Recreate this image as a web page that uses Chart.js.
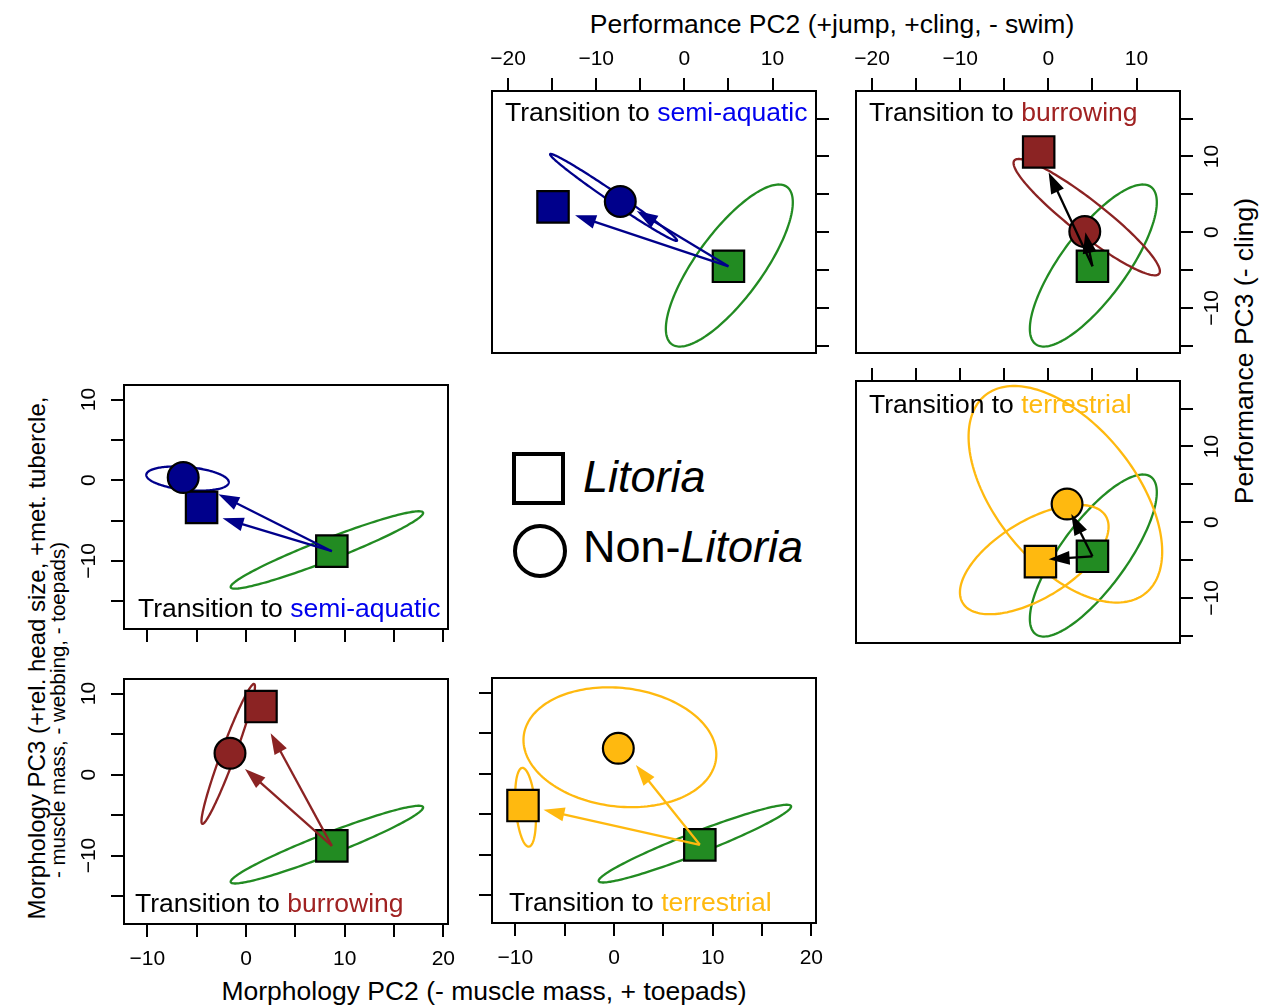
<!DOCTYPE html>
<html>
<head>
<meta charset="utf-8">
<title>Transitions in morphology and performance space</title>
<script src="https://cdn.jsdelivr.net/npm/chart.js@4.4.1/dist/chart.umd.min.js"></script>
<style>
  html, body { margin: 0; padding: 0; background: #fff; }
  body { width: 1265px; height: 1007px; position: relative; overflow: hidden;
         font-family: "Liberation Sans", Arial, sans-serif; color: #000; }
  canvas { position: absolute; }
  .t { position: absolute; white-space: nowrap; line-height: 1; }
  .rot { transform: translate(-50%, -50%) rotate(-90deg); }
  .hc { transform: translateX(-50%); }
  .key-sq { position: absolute; box-sizing: border-box; border: 4px solid #000; }
  .key-ci { position: absolute; box-sizing: border-box; border: 4px solid #000; border-radius: 50%; }
</style>
</head>
<body>

<div class="t hc" style="left:832px; top:10.5px; font-size:26.5px;">Performance PC2 (+jump, +cling, - swim)</div>
<div class="t hc" style="left:484px; top:977.5px; font-size:26.5px;">Morphology PC2 (- muscle mass, + toepads)</div>
<div class="t rot" style="left:1243.8px; top:351px; font-size:26.5px;">Performance PC3 (- cling)</div>
<div class="t rot" style="left:36.7px; top:658px; font-size:24px;">Morphology PC3 (+rel. head size, +met. tubercle,</div>
<div class="t rot" style="left:58px; top:710px; font-size:20.5px;">- muscle mass, - webbing, - toepads)</div>

<div class="key-sq" style="left:512px; top:452px; width:53px; height:53px;"></div>
<div class="t" style="left:583px; top:454px; font-size:45px; font-style:italic;">Litoria</div>
<div class="key-ci" style="left:513px; top:524px; width:54px; height:54px;"></div>
<div class="t" style="left:583px; top:524px; font-size:45px;">Non-<i>Litoria</i></div>

<script>
// ---------------------------------------------------------------
// Groups (order: semi-aquatic, burrowing, terrestrial)
// ---------------------------------------------------------------
const groups = ['semi-aquatic', 'burrowing', 'terrestrial'];

// ---------------------------------------------------------------
// Performance space: PC2 on x, PC3 on y
// ---------------------------------------------------------------
const perfArboreal       = [5.0, -4.5];        // arboreal mean, start of every arrow
const perfLitoria        = [[-14.9, 3.35], [-1.1, 10.6], [-0.9, -5.2]];
const perfNonLitoria     = [[-7.27, 4.06], [4.13, 0.09], [2.12, 2.4]];
const perfTipLitoria     = [[-12.4, 2.25], [0.03, 7.9], [0.03, -4.9]];
const perfTipNonLitoria  = [[-5.4, 2.8], [4.2, 0.0], [2.6, 1.07]];
// ellipses: [centre x, centre y, half-range x, half-range y, correlation]
const perfEllArboreal    = [5.1, -4.4, 7.2, 10.7, 0.78];
const perfEllLitoria     = [null, null, [-1.6, -4.93, 8.43, 7.22, 0.6]];
const perfEllNonLitoria  = [[-8.03, 4.6, 7.2, 5.74, -0.99], [4.35, 1.99, 8.3, 7.68, -0.93], [1.93, 3.69, 10.98, 14.3, -0.53]];
const perfXRange         = [-21.82, 14.93];
const perfYRange         = [-15.95, 18.65];
const perfXTickLabels    = [-20, -10, 0, 10];
const perfYTickLabels    = [-10, 0, 10];

// ---------------------------------------------------------------
// Morphology space: PC2 on x, PC3 on y
// ---------------------------------------------------------------
const morphArboreal      = [8.7, -8.8];
const morphLitoria       = [[-4.5, -3.37], [1.52, 8.4], [-9.22, -3.95]];
const morphNonLitoria    = [[-6.36, 0.33], [-1.62, 2.63], [0.44, 3.12]];
const morphTipLitoria    = [[-2.37, -4.73], [2.5, 5.1], [-7.14, -4.48]];
const morphTipNonLitoria = [[-2.8, -1.73], [-0.1, 0.7], [2.22, 1.07]];
const morphEllArboreal   = [8.2, -8.65, 9.75, 4.8, 0.955];
const morphEllLitoria    = [null, null, [-8.96, -4.16, 1.05, 4.86, -0.3]];
const morphEllNonLitoria = [[-5.92, 0.2, 4.18, 1.5, -0.3], [-1.8, 2.55, 2.71, 8.64, 0.96], [0.6, 3.25, 9.77, 7.4, -0.12]];
const morphXRange        = [-12.36, 20.47];
const morphYRange        = [-18.45, 11.8];
const morphXTickLabels   = [-10, 0, 10, 20];
const morphYTickLabels   = [-10, 0, 10];

// ---------------------------------------------------------------
// Styles
// ---------------------------------------------------------------
const GREEN = '#228B22';
const groupFill  = ['#00008B', '#8B2323', '#FFB90F'];
const groupText  = ['#0000EE', '#A02222', '#FFB90F'];
const FONT = '"Liberation Sans", Arial, sans-serif';
const SQUARE_R = 22.2, CIRCLE_R = 15.4;
const TICK_LEN = 13, MARGIN = 60;

const spaces = {
  perf: { arb: perfArboreal, lit: perfLitoria, non: perfNonLitoria,
          tipLit: perfTipLitoria, tipNon: perfTipNonLitoria,
          ellArb: perfEllArboreal, ellLit: perfEllLitoria, ellNon: perfEllNonLitoria,
          xr: perfXRange, yr: perfYRange, xl: perfXTickLabels, yl: perfYTickLabels,
          xPos: 'top', yPos: 'right' },
  morph: { arb: morphArboreal, lit: morphLitoria, non: morphNonLitoria,
          tipLit: morphTipLitoria, tipNon: morphTipNonLitoria,
          ellArb: morphEllArboreal, ellLit: morphEllLitoria, ellNon: morphEllNonLitoria,
          xr: morphXRange, yr: morphYRange, xl: morphXTickLabels, yl: morphYTickLabels,
          xPos: 'bottom', yPos: 'left' }
};

// panel layout: box = [left, top, width, height]; axis modes: 'labels' | 'ticks' | 'none'
const panels = [
  { space: 'perf',  g: 0, box: [492, 91, 324, 262],  x: 'labels', y: 'ticks',  arrow: groupFill[0], label: 'top',    lx: 13, ly: 30 },
  { space: 'perf',  g: 1, box: [856, 91, 324, 262],  x: 'labels', y: 'labels', arrow: '#000',       label: 'top',    lx: 13, ly: 30 },
  { space: 'perf',  g: 2, box: [856, 381, 324, 262], x: 'ticks',  y: 'labels', arrow: '#000',       label: 'top',    lx: 13, ly: 32 },
  { space: 'morph', g: 0, box: [124, 385, 324, 244], x: 'ticks',  y: 'labels', arrow: groupFill[0], label: 'bottom', lx: 14, ly: 12 },
  { space: 'morph', g: 1, box: [124, 679, 324, 245], x: 'labels', y: 'labels', arrow: groupFill[1], label: 'bottom', lx: 11, ly: 12 },
  { space: 'morph', g: 2, box: [492, 678, 324, 245], x: 'labels', y: 'ticks',  arrow: groupFill[2], label: 'bottom', lx: 17, ly: 12 }
];

function fmt(v) { return v < 0 ? '\u2212' + Math.abs(v) : String(v); }

function strokeEllipse(ctx, xs, ys, e, colour) {
  if (!e) return;
  const [cx, cy, sx, sy, r] = e;
  const d = Math.acos(r);
  ctx.beginPath();
  for (let i = 0; i <= 180; i++) {
    const t = 2 * Math.PI * i / 180;
    const px = xs.getPixelForValue(cx + sx * Math.cos(t + d / 2));
    const py = ys.getPixelForValue(cy + sy * Math.cos(t - d / 2));
    if (i === 0) ctx.moveTo(px, py); else ctx.lineTo(px, py);
  }
  ctx.closePath();
  ctx.strokeStyle = colour;
  ctx.lineWidth = 2.3;
  ctx.stroke();
}

function drawArrow(ctx, x0, y0, x1, y1, colour) {
  const a = Math.atan2(y1 - y0, x1 - x0);
  const L = 21, W = 7;
  const c = Math.cos(a), s = Math.sin(a);
  const bx = x1 - L * c, by = y1 - L * s;
  ctx.strokeStyle = colour;
  ctx.lineWidth = 2.3;
  ctx.lineCap = 'butt';
  ctx.beginPath();
  ctx.moveTo(x0, y0);
  ctx.lineTo(bx + 4 * c, by + 4 * s);
  ctx.stroke();
  ctx.fillStyle = colour;
  ctx.beginPath();
  ctx.moveTo(x1, y1);
  ctx.lineTo(bx - W * s, by + W * c);
  ctx.lineTo(bx + W * s, by - W * c);
  ctx.closePath();
  ctx.fill();
}

function axisOptions(pos, range, mode) {
  return {
    type: 'linear', position: pos, min: range[0], max: range[1],
    display: mode !== 'none',
    ticks: { stepSize: 5, includeBounds: false, display: false },
    grid: { display: true, drawOnChartArea: false, drawTicks: true, tickLength: TICK_LEN,
            tickWidth: 2, tickColor: '#000', lineWidth: 0 },
    border: { display: false },
    afterFit(s) { if (s.isHorizontal()) s.height = TICK_LEN; else s.width = TICK_LEN; }
  };
}

panels.forEach((p) => {
  const S = spaces[p.space];
  const [bl, bt, bw, bh] = p.box;
  const cv = document.createElement('canvas');
  cv.width = bw + 2 * MARGIN;
  cv.height = bh + 2 * MARGIN;
  cv.style.left = (bl - MARGIN) + 'px';
  cv.style.top = (bt - MARGIN) + 'px';
  document.body.appendChild(cv);

  const pad = { left: MARGIN, right: MARGIN, top: MARGIN, bottom: MARGIN };
  if (p.x !== 'none') pad[S.xPos] -= TICK_LEN;
  if (p.y !== 'none') pad[S.yPos] -= TICK_LEN;

  const lit = S.lit[p.g], non = S.non[p.g];

  const decor = {
    id: 'decor' + p.space + p.g,
    beforeDatasetsDraw(chart) {
      const { ctx, chartArea: a, scales: { x, y } } = chart;
      ctx.save();
      ctx.beginPath();
      ctx.rect(a.left, a.top, a.right - a.left, a.bottom - a.top);
      ctx.clip();
      strokeEllipse(ctx, x, y, S.ellArb, GREEN);
      strokeEllipse(ctx, x, y, S.ellLit[p.g], groupFill[p.g]);
      strokeEllipse(ctx, x, y, S.ellNon[p.g], groupFill[p.g]);
      ctx.restore();
    },
    afterDatasetsDraw(chart) {
      const { ctx, scales: { x, y } } = chart;
      ctx.save();
      const x0 = x.getPixelForValue(S.arb[0]), y0 = y.getPixelForValue(S.arb[1]);
      [S.tipLit[p.g], S.tipNon[p.g]].forEach((tip) => {
        drawArrow(ctx, x0, y0, x.getPixelForValue(tip[0]), y.getPixelForValue(tip[1]), p.arrow);
      });
      ctx.restore();
    },
    afterDraw(chart) {
      const { ctx, chartArea: a, scales: { x, y } } = chart;
      ctx.save();
      // frame
      ctx.strokeStyle = '#000';
      ctx.lineWidth = 2;
      ctx.strokeRect(a.left, a.top, a.right - a.left, a.bottom - a.top);
      // tick labels
      ctx.fillStyle = '#000';
      ctx.font = '21px ' + FONT;
      ctx.textBaseline = 'alphabetic';
      ctx.textAlign = 'center';
      if (p.x === 'labels') {
        x.ticks.forEach((t) => {
          if (!S.xl.includes(t.value)) return;
          const px = x.getPixelForValue(t.value);
          const py = S.xPos === 'top' ? a.top - 26 : a.bottom + 41;
          ctx.fillText(fmt(t.value), px, py);
        });
      }
      if (p.y === 'labels') {
        y.ticks.forEach((t) => {
          if (!S.yl.includes(t.value)) return;
          const py = y.getPixelForValue(t.value);
          const px = S.yPos === 'right' ? a.right + 38 : a.left - 29;
          ctx.save();
          ctx.translate(px, py);
          ctx.rotate(-Math.PI / 2);
          ctx.fillText(fmt(t.value), 0, 0);
          ctx.restore();
        });
      }
      // panel title
      ctx.font = '26.5px ' + FONT;
      ctx.textAlign = 'left';
      const tx = a.left + p.lx;
      const ty = p.label === 'top' ? a.top + p.ly : a.bottom - p.ly;
      const head = 'Transition to ';
      ctx.fillStyle = '#000';
      ctx.fillText(head, tx, ty);
      ctx.fillStyle = groupText[p.g];
      ctx.fillText(groups[p.g], tx + ctx.measureText(head).width, ty);
      ctx.restore();
    }
  };

  new Chart(cv, {
    type: 'scatter',
    data: {
      datasets: [
        { label: 'arboreal', order: 3, data: [{ x: S.arb[0], y: S.arb[1] }],
          pointStyle: 'rect', pointRadius: SQUARE_R, backgroundColor: GREEN,
          borderColor: '#000', borderWidth: 2.2 },
        { label: 'Litoria', order: 2, data: [{ x: lit[0], y: lit[1] }],
          pointStyle: 'rect', pointRadius: SQUARE_R, backgroundColor: groupFill[p.g],
          borderColor: '#000', borderWidth: 2.2 },
        { label: 'Non-Litoria', order: 1, data: [{ x: non[0], y: non[1] }],
          pointStyle: 'circle', pointRadius: CIRCLE_R, backgroundColor: groupFill[p.g],
          borderColor: '#000', borderWidth: 2.2 }
      ]
    },
    options: {
      responsive: false,
      maintainAspectRatio: false,
      devicePixelRatio: 1,
      animation: false,
      events: [],
      clip: false,
      layout: { padding: pad },
      plugins: { legend: { display: false }, tooltip: { enabled: false } },
      scales: {
        x: axisOptions(S.xPos, S.xr, p.x),
        y: axisOptions(S.yPos, S.yr, p.y)
      }
    },
    plugins: [decor]
  });
});
</script>
</body>
</html>
